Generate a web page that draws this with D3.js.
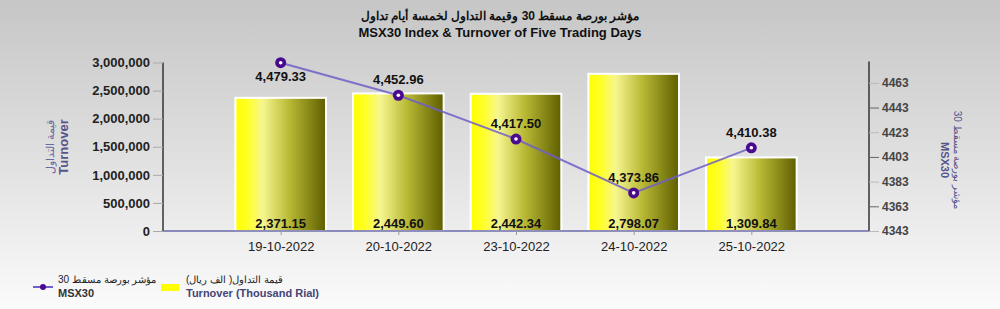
<!DOCTYPE html>
<html>
<head>
<meta charset="utf-8">
<script src="https://cdn.jsdelivr.net/npm/d3@7"></script>
<style>
  body { margin: 0; }
  svg { display: block; font-family: "Liberation Sans", Arial, sans-serif; }
</style>
</head>
<body>
<div id="chart"></div>
<script>
const dates = ['19-10-2022', '20-10-2022', '23-10-2022', '24-10-2022', '25-10-2022'];
const turnover = [2371.15, 2449.60, 2442.34, 2798.07, 1309.84]; // thousand rial labels
const msx30 = [4479.33, 4452.96, 4417.50, 4373.86, 4410.38];
const leftTicks = [0, 500000, 1000000, 1500000, 2000000, 2500000, 3000000];
const rightTicks = [4343, 4363, 4383, 4403, 4423, 4443, 4463];

const width = 1000;
const height = 309;
const plotLeft = 163, plotRight = 869, plotTop = 62.5, plotBottom = 231;

const svg = d3.select('#chart').append('svg')
  .attr('width', width)
  .attr('height', height);

const defs = svg.append('defs');
const bg = defs.append('linearGradient').attr('id', 'bg')
  .attr('x1', 0).attr('y1', 0).attr('x2', 0).attr('y2', 1);
bg.append('stop').attr('offset', '0%').attr('stop-color', '#c6c6c6');
bg.append('stop').attr('offset', '55%').attr('stop-color', '#e2e2e2');
bg.append('stop').attr('offset', '100%').attr('stop-color', '#fbfbfb');

const barGrad = defs.append('linearGradient').attr('id', 'bar')
  .attr('x1', 0).attr('y1', 0).attr('x2', 1).attr('y2', 0);
barGrad.append('stop').attr('offset', '0%').attr('stop-color', '#ffff00');
barGrad.append('stop').attr('offset', '14%').attr('stop-color', '#ffff28');
barGrad.append('stop').attr('offset', '30%').attr('stop-color', '#f6f690');
barGrad.append('stop').attr('offset', '60%').attr('stop-color', '#b8b834');
barGrad.append('stop').attr('offset', '100%').attr('stop-color', '#5e5e00');

svg.append('rect').attr('width', width).attr('height', height).attr('fill', 'url(#bg)');

// title
svg.append('text').attr('x', 500).attr('y', 20)
  .attr('text-anchor', 'middle').attr('font-size', 12).attr('font-weight', 'bold')
  .attr('fill', '#111').attr('direction', 'rtl')
  .text('مؤشر بورصة مسقط 30 وقيمة التداول لخمسة أيام تداول');
svg.append('text').attr('x', 500).attr('y', 37)
  .attr('text-anchor', 'middle').attr('font-size', 13).attr('font-weight', 'bold')
  .attr('fill', '#111')
  .text('MSX30 Index & Turnover of Five Trading Days');

const x = d3.scalePoint().domain(dates).range([plotLeft, plotRight]).padding(1);
const step = x.step();

const yLeft = d3.scaleLinear().domain([0, 3000000]).range([plotBottom, plotTop]);
const yRight = d3.scaleLinear().domain([4343, 4479.5]).range([plotBottom, plotTop]);

// bars
const barW = step * 0.77;
svg.append('g').selectAll('rect')
  .data(dates)
  .enter()
  .append('rect')
  .attr('x', (d) => x(d) - barW / 2)
  .attr('y', (d, i) => yLeft(turnover[i] * 1000))
  .attr('width', barW)
  .attr('height', (d, i) => plotBottom - yLeft(turnover[i] * 1000))
  .attr('fill', 'url(#bar)')
  .attr('stroke', '#ffffff')
  .attr('stroke-width', 2);

// bar labels
svg.append('g').selectAll('text')
  .data(dates)
  .enter()
  .append('text')
  .attr('x', (d) => x(d))
  .attr('y', plotBottom - 3)
  .attr('text-anchor', 'middle')
  .attr('font-size', 13).attr('font-weight', 'bold').attr('fill', '#111')
  .text((d, i) => d3.format(',.2f')(turnover[i]));

// left axis
const axisLeft = d3.axisLeft(yLeft).tickValues(leftTicks).tickFormat(d3.format(','))
  .tickSize(10).tickPadding(3);
const gl = svg.append('g').attr('transform', `translate(${plotLeft},0)`).call(axisLeft);
gl.select('.domain').attr('stroke', '#333').attr('stroke-width', 1.5).attr('d', `M0,${plotTop}V${plotBottom}`);
gl.selectAll('.tick line').attr('stroke', '#aaa');
gl.selectAll('.tick text').attr('font-size', 13).attr('font-weight', 'bold').attr('fill', '#222')
  .attr('font-family', '"Liberation Sans", Arial, sans-serif');

// right axis
const axisRight = d3.axisRight(yRight).tickValues(rightTicks).tickFormat(d3.format('d'))
  .tickSize(10).tickPadding(3);
const gr = svg.append('g').attr('transform', `translate(${plotRight},0)`).call(axisRight);
gr.select('.domain').attr('stroke', '#333').attr('stroke-width', 1.5).attr('d', `M0,${plotTop - 1}V${plotBottom}`);
gr.selectAll('.tick line').attr('stroke', (d, i) => i % 2 ? '#666' : '#bbb');
gr.selectAll('.tick text').attr('font-size', 12).attr('font-weight', 'bold').attr('fill', '#444')
  .attr('font-family', '"Liberation Sans", Arial, sans-serif');

// bottom axis
const axisBottom = d3.axisBottom(x).tickSize(4).tickPadding(7);
const gb = svg.append('g').attr('transform', `translate(0,${plotBottom})`).call(axisBottom);
gb.select('.domain').attr('stroke', '#6a6aa8').attr('stroke-width', 1.5).attr('d', `M${plotLeft},0H${plotRight}`);
gb.selectAll('.tick line').attr('stroke', '#999');
gb.selectAll('.tick text').attr('font-size', 13).attr('fill', '#222')
  .attr('font-family', '"Liberation Sans", Arial, sans-serif');

// axis titles
const lt = svg.append('text').attr('transform', 'translate(54,147) rotate(-90)')
  .attr('text-anchor', 'middle');
lt.append('tspan').attr('x', 0).attr('dy', 0).attr('font-size', 11).attr('fill', '#6a6aa0')
  .attr('direction', 'rtl').text('قيمة التداول');
lt.append('tspan').attr('x', 0).attr('dy', 14).attr('font-size', 13).attr('font-weight', 'bold')
  .attr('fill', '#55558a').text('Turnover');

const rt = svg.append('text').attr('transform', 'translate(954,160) rotate(90)')
  .attr('text-anchor', 'middle');
rt.append('tspan').attr('x', 0).attr('dy', 0).attr('font-size', 10).attr('fill', '#55558a')
  .attr('direction', 'rtl').text('مؤشر بورصة مسقط 30');
rt.append('tspan').attr('x', 0).attr('dy', 13).attr('font-size', 11).attr('font-weight', 'bold')
  .attr('fill', '#55558a').text('MSX30');

// index line
const line = d3.line()
  .x((d, i) => x(dates[i]))
  .y((d) => yRight(d));

svg.append('path')
  .datum(msx30)
  .attr('d', line)
  .attr('fill', 'none')
  .attr('stroke', '#6f5fc8')
  .attr('stroke-opacity', 0.85)
  .attr('stroke-width', 2);

const pts = svg.append('g').selectAll('g')
  .data(msx30)
  .enter()
  .append('g')
  .attr('transform', (d, i) => `translate(${x(dates[i])},${yRight(d)})`);
pts.append('circle').attr('r', 5.5).attr('fill', '#4a0a90');
pts.append('circle').attr('r', 1.8).attr('fill', '#ffffff');
pts.append('text')
  .attr('y', (d, i) => i === 0 ? 18 : -11)
  .attr('text-anchor', 'middle')
  .attr('font-size', 13).attr('font-weight', 'bold').attr('fill', '#111')
  .text((d) => d3.format(',.2f')(d));

// legend
const lg = svg.append('g');
lg.append('line').attr('x1', 33).attr('x2', 53).attr('y1', 287).attr('y2', 287)
  .attr('stroke', '#6f5fc8').attr('stroke-width', 2);
lg.append('circle').attr('cx', 43).attr('cy', 287).attr('r', 3).attr('fill', '#4a0a90');
lg.append('text').attr('x', 58).attr('y', 283).attr('font-size', 10).attr('fill', '#222')
  .attr('direction', 'rtl').attr('text-anchor', 'end')
  .text('مؤشر بورصة مسقط 30');
lg.append('text').attr('x', 58).attr('y', 297).attr('font-size', 11).attr('font-weight', 'bold')
  .attr('fill', '#333').text('MSX30');

lg.append('rect').attr('x', 161).attr('y', 284).attr('width', 18).attr('height', 7)
  .attr('fill', '#ffff00');
lg.append('text').attr('x', 186).attr('y', 283).attr('font-size', 10).attr('fill', '#222')
  .attr('direction', 'rtl').attr('text-anchor', 'end')
  .text('قيمة التداول( الف ريال)');
lg.append('text').attr('x', 186).attr('y', 297).attr('font-size', 11).attr('font-weight', 'bold')
  .attr('fill', '#444477').text('Turnover (Thousand Rial)');
</script>
</body>
</html>
